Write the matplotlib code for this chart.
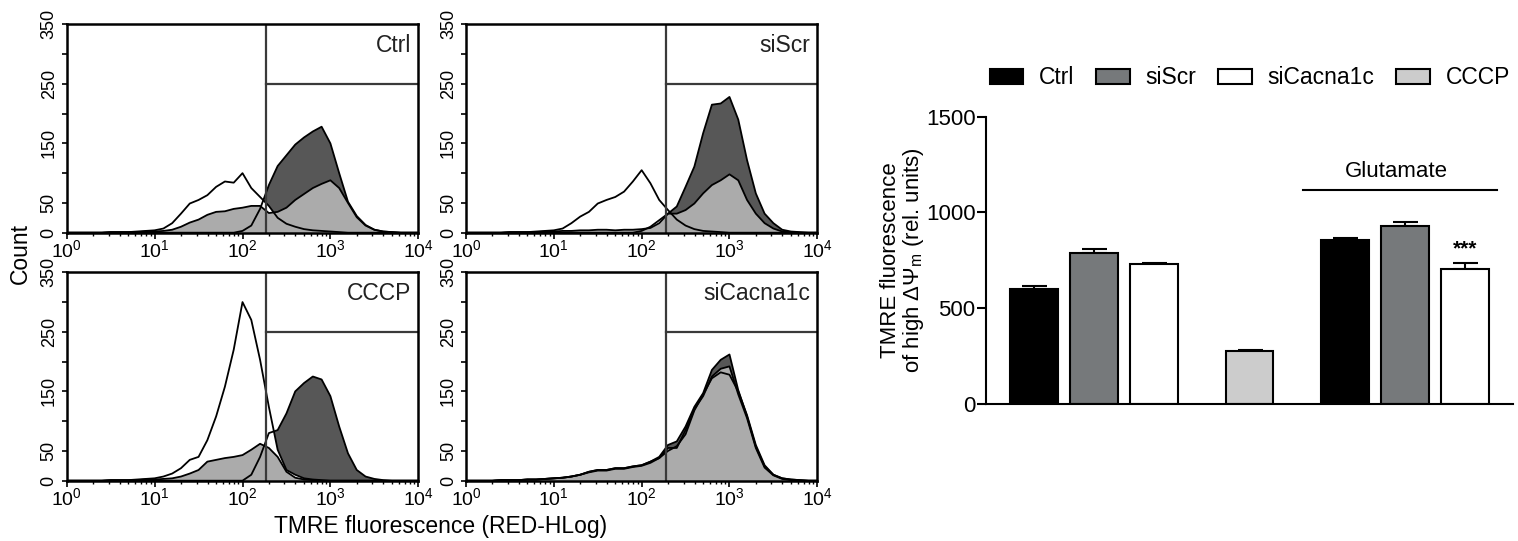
import numpy as np
import matplotlib
matplotlib.use('Agg')
import matplotlib.pyplot as plt
from matplotlib.patches import Patch
from matplotlib.ticker import LogLocator, NullFormatter

plt.rcParams['font.family'] = ['Liberation Sans', 'DejaVu Sans']
plt.rcParams['mathtext.fontset'] = 'custom'
plt.rcParams['mathtext.rm'] = 'Liberation Sans'
plt.rcParams['mathtext.it'] = 'Liberation Sans:italic'
plt.rcParams['mathtext.bf'] = 'Liberation Sans:bold'

# ---- histogram data (counts per 0.1 decade bin, 10^0 .. 10^4) ----
bin_exp = np.round(np.arange(0, 4.01, 0.1), 1)

ctrl_dark = [0, 0, 0, 0, 0, 0, 0, 0, 0, 0, 0, 0, 0, 0, 0, 0, 0, 0, 0, 0,
             3, 12, 40, 80, 112, 130, 148, 160, 170, 178, 150, 100, 52, 28, 13, 5, 2, 1, 0, 0, 0]
ctrl_white = [0, 0, 0, 0, 0, 1, 1, 1, 2, 3, 4, 7, 16, 32, 49, 55, 63, 77, 86, 84,
              100, 75, 60, 45, 25, 15, 10, 6, 4, 3, 2, 1, 0, 0, 0, 0, 0, 0, 0, 0, 0]
ctrl_light = [0, 0, 0, 0, 0, 1, 1, 1, 1, 2, 2, 3, 5, 10, 17, 22, 30, 35, 36, 40,
              42, 45, 45, 33, 35, 42, 55, 65, 75, 82, 88, 75, 50, 26, 12, 5, 2, 1, 0, 0, 0]

siscr_dark = [0, 0, 0, 0, 0, 0, 0, 0, 0, 0, 0, 0, 0, 0, 0, 0, 0, 0, 0, 0,
              3, 10, 21, 32, 44, 77, 111, 167, 215, 217, 228, 190, 122, 66, 32, 16, 5, 2, 1, 0, 0]
siscr_white = [0, 0, 0, 0, 0, 1, 1, 1, 2, 3, 4, 7, 16, 27, 35, 49, 55, 60, 69, 86,
               105, 83, 55, 38, 22, 12, 6, 3, 2, 1, 0, 0, 0, 0, 0, 0, 0, 0, 0, 0, 0]
siscr_light = [0, 0, 0, 0, 0, 1, 1, 1, 1, 2, 2, 3, 3, 4, 4, 5, 5, 4, 5, 5,
               6, 8, 16, 32, 32, 38, 49, 66, 80, 88, 98, 88, 55, 32, 16, 7, 2, 1, 0, 0, 0]

cccp_dark = [0, 0, 0, 0, 0, 0, 0, 0, 0, 0, 0, 0, 0, 0, 0, 0, 0, 0, 0, 0,
             0, 10, 40, 80, 85, 113, 150, 164, 175, 170, 142, 91, 46, 18, 7, 3, 1, 0, 0, 0, 0]
cccp_white = [0, 0, 0, 0, 0, 1, 1, 1, 2, 3, 4, 7, 12, 21, 35, 40, 68, 108, 158, 220,
              300, 270, 203, 124, 52, 18, 10, 4, 2, 1, 0, 0, 0, 0, 0, 0, 0, 0, 0, 0, 0]
cccp_light = [0, 0, 0, 0, 0, 1, 1, 1, 1, 2, 2, 3, 4, 7, 12, 18, 32, 35, 38, 40,
              43, 52, 62, 55, 40, 15, 5, 2, 1, 0, 0, 0, 0, 0, 0, 0, 0, 0, 0, 0, 0]

cacna_dark = [0, 0, 0, 0, 1, 1, 1, 2, 2, 3, 4, 5, 7, 10, 15, 18, 18, 21, 21, 24,
              26, 32, 40, 60, 66, 91, 124, 147, 186, 203, 212, 152, 108, 57, 24, 10, 4, 2, 1, 0, 0]
cacna_white = [0, 0, 0, 0, 1, 1, 1, 2, 2, 3, 4, 5, 7, 10, 15, 18, 18, 21, 21, 24,
               26, 32, 38, 50, 58, 78, 118, 145, 172, 182, 178, 150, 110, 60, 26, 10, 4, 2, 1, 0, 0]
cacna_light = [0, 0, 0, 0, 1, 1, 1, 2, 2, 3, 4, 5, 7, 10, 14, 17, 17, 20, 20, 23,
               25, 30, 38, 55, 55, 85, 120, 142, 175, 188, 192, 145, 105, 55, 22, 9, 3, 1, 0, 0, 0]

panel_names = ['Ctrl', 'siScr', 'CCCP', 'siCacna1c']
edge_counts = [21, 24, 20, 93]
gate_x = 187
y_tick_vals = [0, 50, 100, 150, 200, 250, 300, 350]
y_tick_labels = ['0', '50', '', '150', '', '250', '', '350']

# ---- bar chart data ----
legend_names = ['Ctrl', 'siScr', 'siCacna1c', 'CCCP']
legend_colors = ['black', '#76797b', 'white', '#cccccc']
bar_pos = [0, 1, 2, 3.6, 5.2, 6.2, 7.2]
bar_vals = [598, 790, 728, 274, 856, 927, 705]
bar_err = [19, 19, 6, 6, 12, 24, 32]
bar_colors = ['black', '#76797b', 'white', '#cccccc', 'black', '#76797b', 'white']

fig = plt.figure(figsize=(15.18, 5.41), dpi=100)

W, H = 1518.0, 541.0
def rect(x0, x1, y0, y1):
    return [x0 / W, 1 - y1 / H, (x1 - x0) / W, (y1 - y0) / H]

hist_rects = [rect(66.7, 418.3, 24.3, 232.7), rect(466, 817.3, 24.3, 232.7),
              rect(66.7, 418.3, 272.3, 480.7), rect(466, 817.3, 272.3, 480.7)]
hist_data = [(ctrl_dark, ctrl_white, ctrl_light),
             (siscr_dark, siscr_white, siscr_light),
             (cccp_dark, cccp_white, cccp_light),
             (cacna_dark, cacna_white, cacna_light)]

x = 10.0 ** bin_exp
for i in range(4):
    ax = fig.add_axes(hist_rects[i])
    dark, white, light = hist_data[i]
    ax.vlines(1.0, 0, edge_counts[i], color='black', lw=1.3)
    for ys, fc in [(dark, '#575757'), (white, 'white'), (light, '#ababab')]:
        ax.fill_between(x, ys, 0, facecolor=fc, edgecolor='none')
        ax.plot(x, ys, color='black', lw=1.3)
    ax.axvline(gate_x, color='#3a3a3a', lw=1.6)
    ax.plot([gate_x, 1e4], [250, 250], color='#3a3a3a', lw=1.6, clip_on=False)
    ax.set_xscale('log')
    ax.set_xlim(1, 1e4)
    ax.set_ylim(0, 350)
    ax.xaxis.set_major_locator(LogLocator(base=10, numticks=10))
    ax.xaxis.set_minor_locator(LogLocator(base=10, subs=np.arange(2, 10), numticks=20))
    ax.xaxis.set_minor_formatter(NullFormatter())
    ax.set_yticks(y_tick_vals)
    ax.set_yticklabels(y_tick_labels, rotation=90, va='center')
    ax.tick_params(axis='x', which='major', labelsize=14, length=4, width=1.2, pad=1)
    ax.tick_params(axis='x', which='minor', length=2.5, width=1)
    ax.tick_params(axis='y', labelsize=13, length=3.5, width=1.2, pad=3)
    for s in ax.spines.values():
        s.set_linewidth(1.8)
    ax.text(0.979, 0.9, panel_names[i], transform=ax.transAxes,
            ha='right', va='center', fontsize=16.5, color='#222222')

fig.text(20 / W, 1 - 254 / H, 'Count', rotation=90, ha='center', va='center', fontsize=16.5)
fig.text(441 / W, 1 - 527 / H, 'TMRE fluorescence (RED-HLog)', ha='center', va='center', fontsize=16.5)

# ---- bar chart ----
bx = fig.add_axes(rect(986, 1513, 116.5, 404))
bx.bar(bar_pos, bar_vals, width=0.8, color=bar_colors, edgecolor='black', linewidth=1.5, zorder=2)
bx.errorbar(bar_pos, bar_vals, yerr=[np.zeros(len(bar_err)), bar_err], fmt='none',
            ecolor='black', elinewidth=1.5, capsize=9, capthick=1.5, zorder=1)
bx.set_xlim(-0.8, 8.0)
bx.set_ylim(0, 1500)
bx.set_yticks([0, 500, 1000, 1500])
bx.set_xticks([])
bx.tick_params(axis='y', labelsize=16, length=6.5, width=1.5, pad=1)
bx.spines['top'].set_visible(False)
bx.spines['right'].set_visible(False)
bx.spines['left'].set_linewidth(1.5)
bx.spines['bottom'].set_linewidth(1.5)

bx.plot([4.5, 7.73], [1116, 1116], color='black', lw=1.5, clip_on=False)
bx.text(6.05, 1160, 'Glutamate', ha='center', va='bottom', fontsize=16)
bx.text(bar_pos[6], 810, '***', ha='center', va='center', fontsize=15, fontweight='bold')

fig.text(903 / W, 1 - 260 / H, 'TMRE fluorescence\nof high ΔΨ$_\\mathregular{m}$ (rel. units)',
         rotation=90, ha='center', va='center', fontsize=16, multialignment='center', linespacing=1.05)

handles = [Patch(facecolor=c, edgecolor='black', linewidth=1.5) for c in legend_colors]
fig.legend(handles, legend_names, ncol=4, loc='center', bbox_to_anchor=(1250 / W, 1 - 78 / H),
           frameon=False, fontsize=16.5, handlelength=1.45, handleheight=0.68,
           handletextpad=0.7, columnspacing=0.95, borderaxespad=0, borderpad=0)

fig.savefig('out.png', dpi=100)
